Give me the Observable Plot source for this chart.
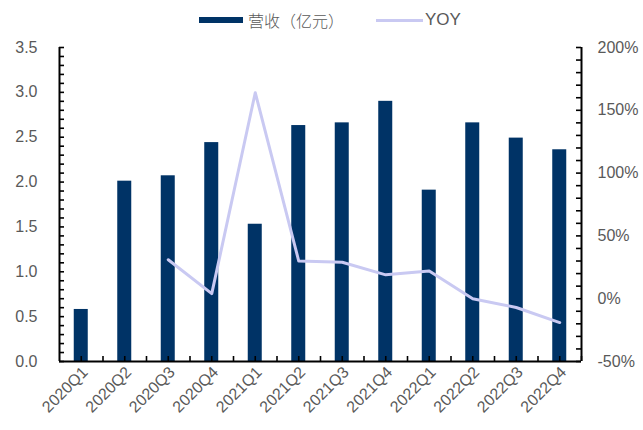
<!DOCTYPE html>
<html>
<head>
<meta charset="utf-8">
<script src="https://cdn.jsdelivr.net/npm/d3@7"></script>
<script src="https://cdn.jsdelivr.net/npm/@observablehq/plot@0.6"></script>
<style>
  html, body { margin: 0; padding: 0; background: white; }
  #wrap { width: 643px; height: 430px; position: relative; overflow: hidden; }
  #legend { position: relative; height: 36px; font-family: "Liberation Sans", Arial, sans-serif; color: #595959; }
  #legend .sw1 { position: absolute; left: 199px; top: 17px; width: 44px; height: 6px; background: #003366; }
  #legend .t1 { position: absolute; left: 248px; top: 9px; font-family: "Noto Sans CJK SC", sans-serif; font-size: 16px; line-height: 22px; font-weight: 300; }
  #legend .sw2 { position: absolute; left: 376px; top: 19px; width: 47px; height: 3px; background: #c9c9f2; }
  #legend .t2 { position: absolute; left: 425px; top: 9px; font-size: 17px; line-height: 22px; }
</style>
</head>
<body>
<div id="wrap">
  <div id="legend">
    <div class="sw1"></div><div class="t1">营收（亿元）</div>
    <div class="sw2"></div><div class="t2">YOY</div>
  </div>
  <div id="chart"></div>
</div>
<script>
const quarters = ["2020Q1","2020Q2","2020Q3","2020Q4","2021Q1","2021Q2","2021Q3","2021Q4","2022Q1","2022Q2","2022Q3","2022Q4"];
const revenue = [0.58, 2.01, 2.07, 2.44, 1.53, 2.63, 2.66, 2.90, 1.91, 2.66, 2.49, 2.36];
const yoy = [null, null, 31, 4, 164, 30, 29, 19, 22, 0, -7, -19];
const leftTicks = [0, 0.5, 1.0, 1.5, 2.0, 2.5, 3.0, 3.5];
const rightTicks = [-50, 0, 50, 100, 150, 200];

const W = 643, H = 394;
const mL = 59, mR = 62, mT = 11, mB = 69;
const innerW = W - mL - mR, innerH = H - mT - mB;
const n = quarters.length;
const xLo = -0.5, xHi = n - 0.5;
const pxX = innerW / n;          // pixels per category
const pxY = innerH / 3.5;        // pixels per y unit
const half = 7 / pxX;            // half bar width (7px)
const tx = 5 / pxX, ty = 5 / pxY; // tick length (5px)

const conv = v => (v + 50) / 250 * 3.5;
const unconv = y => Math.round(y / 3.5 * 250 - 50);

const bars = quarters.map((q, i) => ({i, q, rev: revenue[i]}));
const lineData = quarters.map((q, i) => ({i, yoy: yoy[i]})).filter(d => d.yoy != null);

const leftMinor = d3.range(0, 36).map(k => k / 10);
const rightMinor = d3.range(-50, 201, 10).map(conv);
const bottomTicks = d3.range(0, n).flatMap(i => [i, i + 0.5]);

const chart = Plot.plot({
  width: W, height: H,
  marginLeft: mL, marginRight: mR, marginTop: mT, marginBottom: mB,
  style: { fontFamily: "'Liberation Sans', Arial, sans-serif", fontSize: "16px", color: "#595959", background: "white", overflow: "visible" },
  x: { domain: [xLo, xHi], label: null },
  y: { domain: [0, 3.5], label: null },
  marks: [
    Plot.rectY(bars, { x1: d => d.i - half, x2: d => d.i + half, y: "rev", fill: "#003366" }),
    Plot.line(lineData, { x: "i", y: d => conv(d.yoy), stroke: "#c9c9f2", strokeWidth: 3 }),
    Plot.ruleY(leftMinor, { y: d => d, x1: xLo, x2: xLo + tx, stroke: "black", strokeWidth: 1.6 }),
    Plot.ruleY(rightMinor, { y: d => d, x1: xHi - tx, x2: xHi, stroke: "black", strokeWidth: 1.6 }),
    Plot.ruleX(bottomTicks, { x: d => d, y1: 0, y2: ty, stroke: "black", strokeWidth: 1.6 }),
    Plot.ruleX([xLo, xHi], { y1: 0, y2: 3.5, stroke: "black", strokeWidth: 2 }),
    Plot.ruleY([0], { stroke: "black", strokeWidth: 2 }),
    Plot.axisY(leftTicks, { anchor: "left", tickSize: 0, tickPadding: 22, fontSize: 16, tickFormat: d3.format(".1f"), fill: "#595959", label: null }),
    Plot.axisY(rightTicks.map(conv), { anchor: "right", tickSize: 0, tickPadding: 16, fontSize: 16, tickFormat: v => unconv(v) + "%", fill: "#595959", label: null }),
    Plot.axisX(d3.range(0, n), { anchor: "bottom", tickRotate: -45, tickSize: 0, tickPadding: 8, fontSize: 16, dx: 4, tickFormat: i => quarters[i], fill: "#595959", label: null })
  ]
});
document.getElementById("chart").appendChild(chart);
</script>
</body>
</html>
